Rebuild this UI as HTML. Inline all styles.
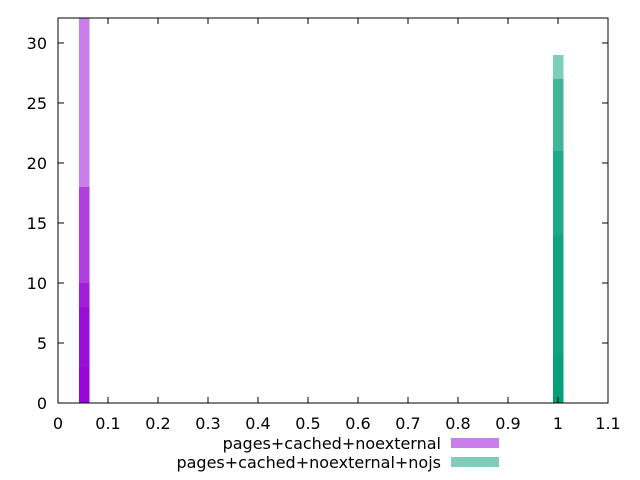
<!DOCTYPE html>
<html><head><meta charset="utf-8"><style>body{margin:0;background:#fff}svg{display:block;font-family:"DejaVu Sans",sans-serif}</style></head>
<body>
<svg id="chart" width="640" height="480" viewBox="0 0 640 480"></svg>
<script>
const xTicks=[0,0.1,0.2,0.3,0.4,0.5,0.6,0.7,0.8,0.9,1,1.1];
const yTicks=[0,5,10,15,20,25,30];
const seriesNames=["pages+cached+noexternal","pages+cached+noexternal+nojs"];
const seriesX=[0.052,1.0];
const purpleValues=[35,18,10,8,3];
const greenValues=[29,27,21,14,4,1];
const seriesColors=["#9400d3","#009e73"];
const L=58,R=608,T=18,B=403,XMAX=1.1,YMAX=32.08;
const xs=v=>L+v/XMAX*(R-L), ys=v=>B-v/YMAX*(B-T);
const svg=document.getElementById('chart');const NS='http://www.w3.org/2000/svg';
function mk(t,a,p){const e=document.createElementNS(NS,t);for(const k in a)e.setAttribute(k,a[k]);(p||svg).appendChild(e);return e;}
const defs=mk('defs',{});const cp=mk('clipPath',{id:'pc'},defs);mk('rect',{x:L,y:T,width:R-L,height:B-T},cp);
const g=mk('g',{'clip-path':'url(#pc)'});
[purpleValues,greenValues].forEach((vals,si)=>{vals.forEach((v,i)=>{
 const r=mk('rect',{x:xs(seriesX[si])-5,y:ys(v),width:10.5,height:ys(0)-ys(v),fill:seriesColors[si],'fill-opacity':0.5},g);
 
 
});});
mk('rect',{x:L,y:T,width:R-L,height:B-T,fill:'none',stroke:'#000','stroke-width':1,});
xTicks.forEach(t=>{const x=xs(t);mk('line',{x1:x,x2:x,y1:B,y2:B-6,stroke:'#000'});mk('line',{x1:x,x2:x,y1:T,y2:T+6,stroke:'#000'});
 const tx=mk('text',{x:x,y:B+26,'text-anchor':'middle','font-size':16});tx.textContent=t;});
yTicks.forEach(t=>{const y=ys(t);mk('line',{x1:L,x2:L+6,y1:y,y2:y,stroke:'#000'});mk('line',{x1:R,x2:R-6,y1:y,y2:y,stroke:'#000'});
 const tx=mk('text',{x:L-11,y:y+6,'text-anchor':'end','font-size':16});tx.textContent=t;});
seriesNames.forEach((n,i)=>{const y=443+i*19;
 const tx=mk('text',{x:441,y:y+6,'text-anchor':'end','font-size':16});tx.textContent=n;
 const r=mk('rect',{x:451,y:y-5,width:48,height:10,fill:seriesColors[i],'fill-opacity':0.5});});
</script>
</body></html>
